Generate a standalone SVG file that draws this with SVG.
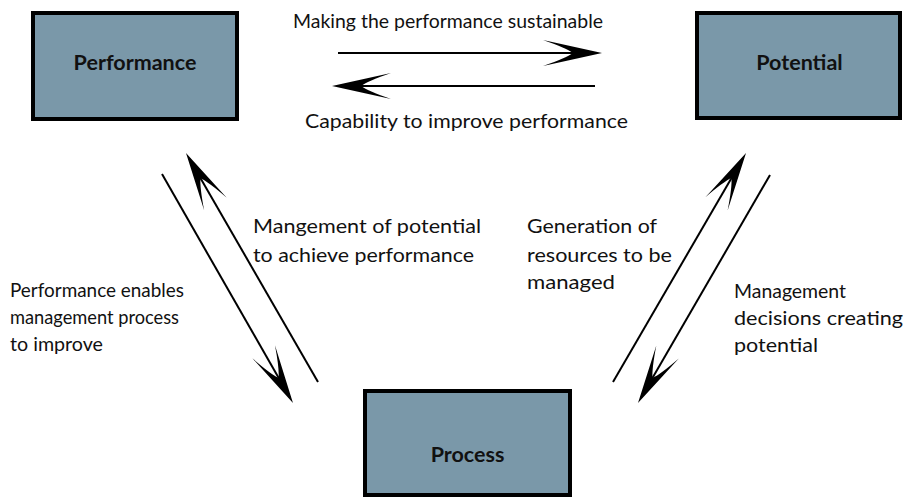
<svg xmlns="http://www.w3.org/2000/svg" width="904" height="498" viewBox="0 0 904 498">
<style>
.box{fill:#7a98a9;stroke:#000;stroke-width:4}
.bl{font-family:Lato,"Open Sans","DejaVu Sans",sans-serif;font-weight:bold;font-size:21.5px;fill:#111;text-anchor:middle}
.lb{font-family:Lato,"Open Sans","DejaVu Sans",sans-serif;font-size:20px;fill:#111}
.cn{stroke:#000;stroke-width:2;fill:none;marker-end:url(#ah)}
</style>
<defs>
<marker id="ah" viewBox="0 0 62 28" refX="54" refY="14" markerWidth="62" markerHeight="28" markerUnits="userSpaceOnUse" orient="auto">
<path d="M60,14 L1,1 Q24,9 31,14 Q24,19 1,27 Z" fill="#000"/>
</marker>
</defs>
<g id="performance">
<rect class="box" x="33" y="13" width="204" height="106"/>
<text class="bl" x="135" y="70">Performance</text>
</g>
<g id="potential">
<rect class="box" x="697" y="13" width="203" height="105"/>
<text class="bl" x="799.5" y="70">Potential</text>
</g>
<g id="process">
<rect class="box" x="365" y="391" width="205" height="104"/>
<text class="bl" x="467.5" y="462">Process</text>
</g>
<g id="connectors">
<line class="cn" x1="338" y1="53" x2="596" y2="53"/>
<line class="cn" x1="595" y1="86" x2="338" y2="86"/>
<line class="cn" x1="162" y1="174" x2="290" y2="397.8"/>
<line class="cn" x1="318" y1="382" x2="189" y2="158.2"/>
<line class="cn" x1="613" y1="382" x2="743" y2="158.2"/>
<line class="cn" x1="770" y1="175" x2="641" y2="397.8"/>
</g>
<g id="labels">
<text class="lb" x="293" y="28" textLength="310" lengthAdjust="spacingAndGlyphs">Making the performance sustainable</text>
<text class="lb" x="305" y="128" textLength="323" lengthAdjust="spacingAndGlyphs">Capability to improve performance</text>
<text class="lb" x="253" y="233" textLength="228" lengthAdjust="spacingAndGlyphs">Mangement of potential</text>
<text class="lb" x="253" y="262" textLength="221" lengthAdjust="spacingAndGlyphs">to achieve performance</text>
<text class="lb" x="527" y="233" textLength="130" lengthAdjust="spacingAndGlyphs">Generation of</text>
<text class="lb" x="527" y="262" textLength="145" lengthAdjust="spacingAndGlyphs">resources to be</text>
<text class="lb" x="527" y="289" textLength="88" lengthAdjust="spacingAndGlyphs">managed</text>
<text class="lb" x="10" y="297" textLength="174" lengthAdjust="spacingAndGlyphs">Performance enables</text>
<text class="lb" x="10" y="324" textLength="169" lengthAdjust="spacingAndGlyphs">management process</text>
<text class="lb" x="10" y="351" textLength="93" lengthAdjust="spacingAndGlyphs">to improve</text>
<text class="lb" x="734" y="298" textLength="112" lengthAdjust="spacingAndGlyphs">Management</text>
<text class="lb" x="734" y="325" textLength="169" lengthAdjust="spacingAndGlyphs">decisions creating</text>
<text class="lb" x="734" y="352" textLength="84" lengthAdjust="spacingAndGlyphs">potential</text>
</g>
</svg>
